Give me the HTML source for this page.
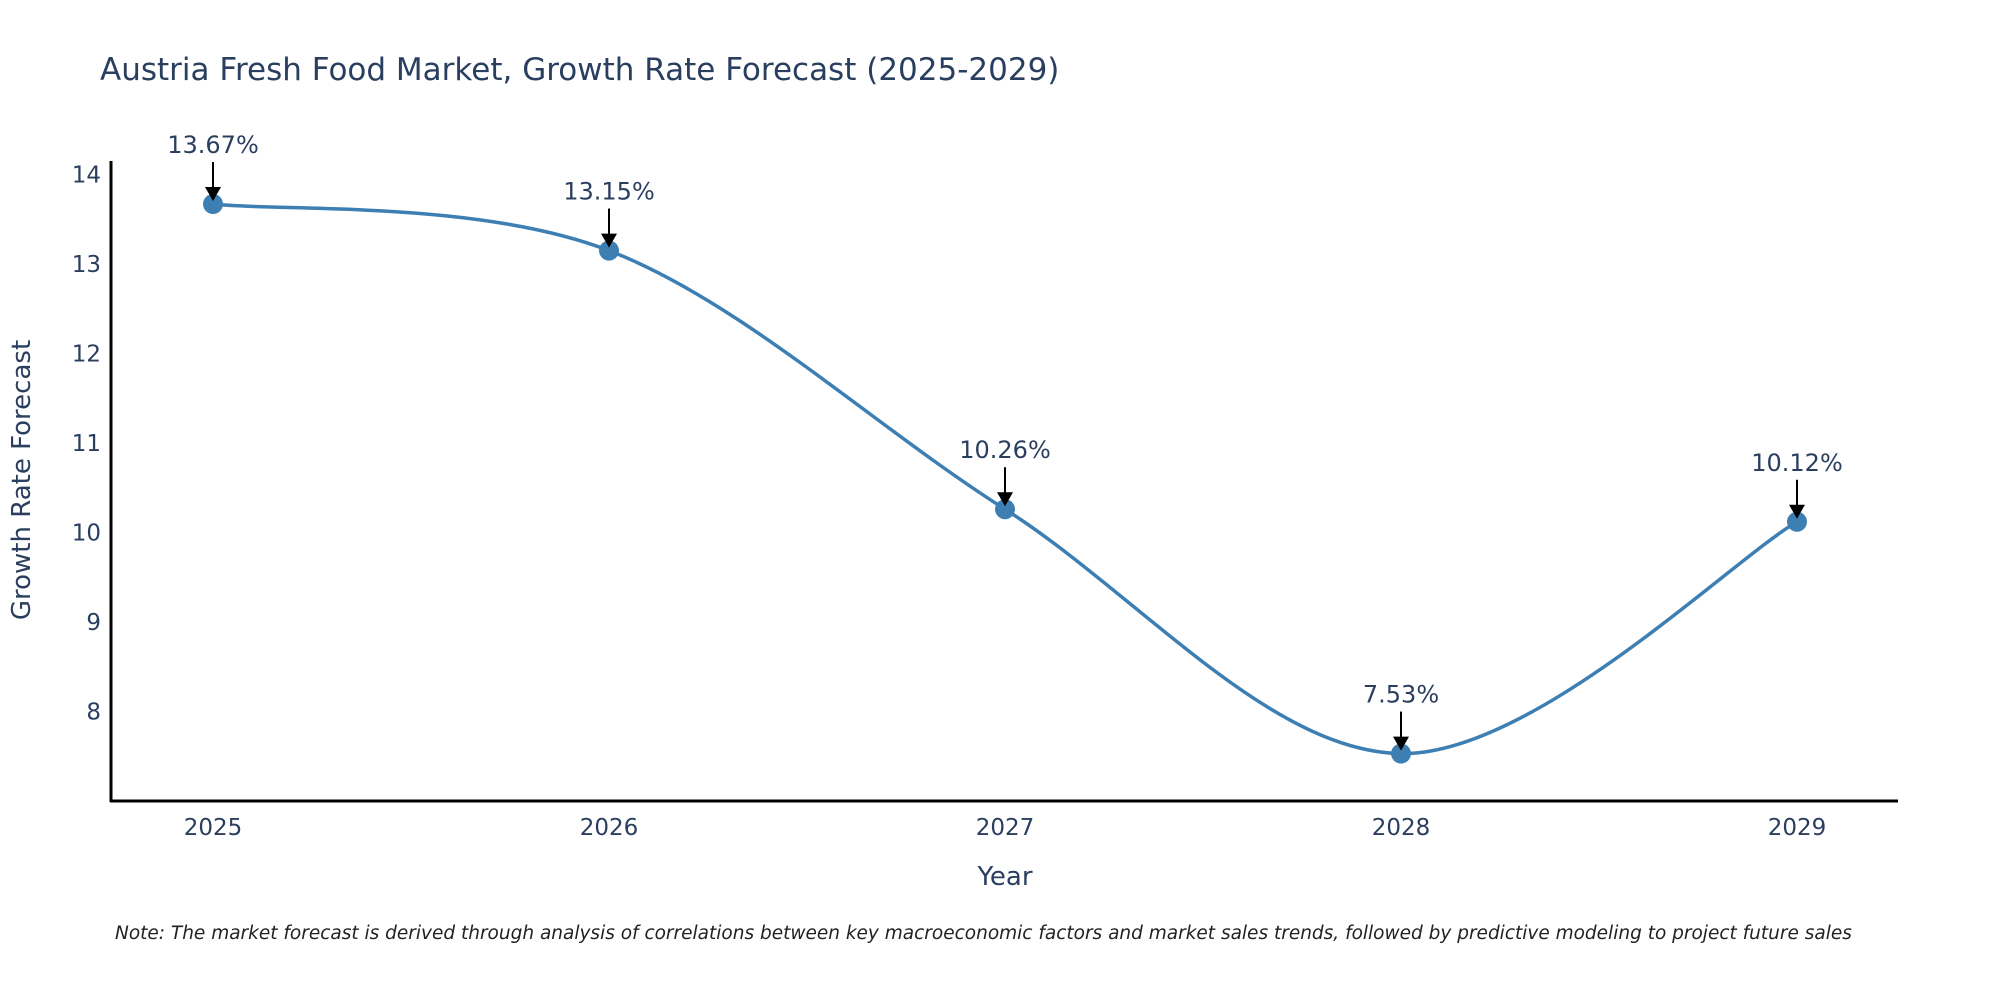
<!DOCTYPE html>
<html><head><meta charset="utf-8"><style>
html,body{margin:0;padding:0;background:#fff;}
svg{display:block;font-family:"DejaVu Sans","Liberation Sans",sans-serif;}
</style></head><body>
<svg id="chart" width="2000" height="1000" viewBox="0 0 2000 1000">
<rect width="2000" height="1000" fill="#fff"/>
<text x="100" y="80" font-size="31" fill="#2a3f5f">Austria Fresh Food Market, Growth Rate Forecast (2025-2029)</text>
<g id="yticks"></g>
<g id="xticks"></g>
<line x1="111" y1="161" x2="111" y2="802" stroke="#000" stroke-width="3"/>
<line x1="110" y1="801" x2="1898" y2="801" stroke="#000" stroke-width="3"/>
<path id="line" fill="none" stroke="#3d7fb3" stroke-width="3.5"/>
<g id="marks"></g>
<text x="30" y="480" font-size="26" fill="#2a3f5f" text-anchor="middle" transform="rotate(-90 30 480)">Growth Rate Forecast</text>
<text x="1005" y="885" font-size="26" fill="#2a3f5f" text-anchor="middle">Year</text>
<text x="115" y="939" font-size="18.5" font-style="italic" fill="#222">Note: The market forecast is derived through analysis of correlations between key macroeconomic factors and market sales trends, followed by predictive modeling to project future sales</text>
</svg>
<script>
const years = [2025, 2026, 2027, 2028, 2029];
const growth = [13.67, 13.15, 10.26, 7.53, 10.12];
const labels = ["13.67%", "13.15%", "10.26%", "7.53%", "10.12%"];
const yTicks = [8, 9, 10, 11, 12, 13, 14];

const NS = "http://www.w3.org/2000/svg";
function X(v){ return 213 + (v - 2025) * 396; }
function Y(v){ return 801 - (v - 7) * 89.5; }
function mk(tag, attrs, parent){ const e = document.createElementNS(NS, tag); for (const k in attrs) e.setAttribute(k, attrs[k]); parent.appendChild(e); return e; }

const yt = document.getElementById('yticks');
yTicks.forEach(t => {
  const e = mk('text', {x: 101, y: Y(t) + 8, 'font-size': 23, fill: '#2a3f5f', 'text-anchor': 'end'}, yt);
  
  
  e.textContent = t;
});
const xt = document.getElementById('xticks');
years.forEach(y => {
  const e = mk('text', {x: X(y), y: 835, 'font-size': 23, fill: '#2a3f5f', 'text-anchor': 'middle'}, xt);
  
  
  e.textContent = y;
});

const pts = years.map((y, i) => [X(y), Y(growth[i])]);
let d = 'M' + pts[0][0] + ',' + pts[0][1];
for (let i = 0; i < pts.length - 1; i++) {
  const p0 = pts[Math.max(0, i - 1)], p1 = pts[i], p2 = pts[i + 1], p3 = pts[Math.min(pts.length - 1, i + 2)];
  const c1 = [p1[0] + (p2[0] - p0[0]) / 6, p1[1] + (p2[1] - p0[1]) / 6];
  const c2 = [p2[0] - (p3[0] - p1[0]) / 6, p2[1] - (p3[1] - p1[1]) / 6];
  d += ' C' + c1 + ' ' + c2 + ' ' + p2;
}
document.getElementById('line').setAttribute('d', d);

const mg = document.getElementById('marks');
pts.forEach((p, i) => {
  const c = mk('circle', {cx: p[0], cy: p[1], r: 10, fill: '#3d7fb3'}, mg);
  
  
  const l = mk('line', {x1: p[0], y1: p[1] - 42, x2: p[0], y2: p[1] - 14, stroke: '#000', 'stroke-width': 2}, mg);
  
  
  const h = mk('polygon', {points: (p[0]-8)+','+(p[1]-17)+' '+(p[0]+8)+','+(p[1]-17)+' '+p[0]+','+(p[1]-3), fill: '#000'}, mg);
  
  
  const t = mk('text', {x: p[0], y: p[1] - 51, 'font-size': 24, fill: '#2a3f5f', 'text-anchor': 'middle'}, mg);
  
  
  t.textContent = labels[i];
});
</script>
</body></html>
